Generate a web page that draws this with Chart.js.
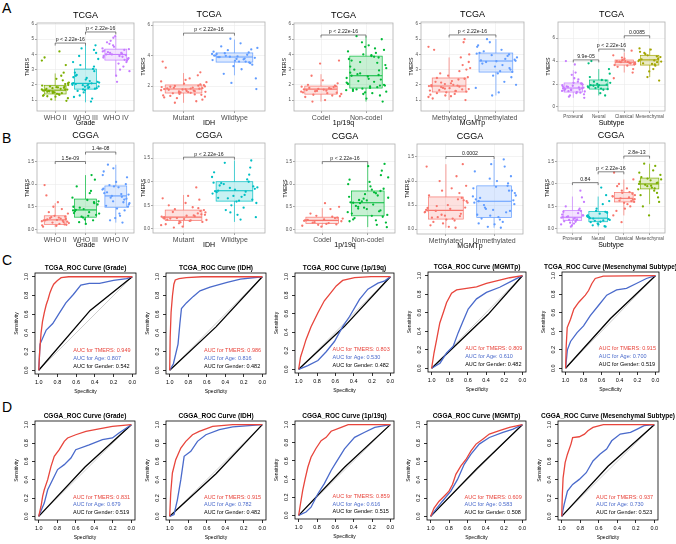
<!DOCTYPE html>
<html lang="en">
<head>
<meta charset="UTF-8">
<title>TMERS boxplots and ROC curves</title>
<script src="https://cdn.jsdelivr.net/npm/chart.js"></script>
<style>
    body {
        margin: 0;
        background: #fff;
        font-family: "Liberation Sans", Arial, sans-serif;
    }
    #fig {
        position: relative;
        width: 676px;
        height: 544px;
        overflow: hidden;
    }
    #fig canvas {
        position: absolute;
    }
    .tag {
        position: absolute;
        font-size: 14px;
        line-height: 1;
        color: #000;
    }
</style>
</head>
<body>
<div id="fig">
    <div class="tag" style="left:2px;top:1px">A</div>
    <div class="tag" style="left:2px;top:131px">B</div>
    <div class="tag" style="left:2px;top:253px">C</div>
    <div class="tag" style="left:2px;top:400px">D</div>
</div>

<script>
// ---------- boxplot data (TMERS by group) ----------
const tcgaTicks = [1, 2, 3, 4, 5, 6];
const tcgaIdhTicks = [2, 4, 6];
const tcgaSubTicks = [0, 2, 4, 6];
const cggaTicks = [0, 0.5, 1, 1.5];

const tcgaGradeCats = ['WHO II', 'WHO III', 'WHO IV'];
const tcgaGradeBox = [[0.95, 1.4, 1.65, 1.95, 2.75], [0.85, 1.72, 2.1, 3.04, 4.6], [2.6, 3.63, 4.0, 4.35, 5.2]];
const tcgaGradePts = [
    [1.62,1.35,2.05,1.78,1.12,1.55,2.4,1.7,1.45,1.9,0.95,1.66,1.83,2.8,1.5,1.28,1.74,2.15,1.6,1.41,3.8,1.88,1.05,1.69,1.52,2.3,1.95,1.38,1.73,3.3,1.58,1.22,1.99,1.64,2.6,1.47,1.81,1.32,4.2,1.7,1.56,2.1,1.25,1.85,3.6],
    [2.05,1.8,3.2,1.65,2.5,0.9,2.15,3.9,1.95,2.8,1.75,4.4,2.2,1.5,3.05,2.0,1.85,2.65,4.1,1.3,2.35,1.9,3.5,2.1,1.7,2.9,1.2,2.25,4.6,1.98,3.7,1.6,2.45,2.08,1.1,3.3,1.78,2.6,2.02,4.3,1.88,2.12],
    [4.0,3.7,4.5,3.2,4.2,3.9,4.8,3.5,4.1,2.6,4.35,3.8,4.05,5.1,3.65,4.25,3.0,3.95,4.6,3.75,4.15,2.2,4.4,3.85,4.9,3.6,4.0,3.4,4.3,5.2,3.9,4.1,2.9,4.7]
];
const tcgaGradeP = [[1, 2, 4.75, 'p < 2.22e-16'], [2, 3, 5.48, 'p < 2.22e-16']];

const tcgaIdhCats = ['Mutant', 'Wildtype'];
const tcgaIdhBox = [[0.9, 1.54, 1.8, 2.07, 2.85], [2.7, 3.57, 3.9, 4.17, 5.05]];
const tcgaIdhPts = [
    [1.8,1.55,2.1,1.65,1.3,1.95,2.4,1.72,1.45,2.0,1.1,1.85,1.6,2.7,1.77,1.38,1.9,2.25,1.52,1.68,3.2,1.82,1.2,2.05,1.58,1.0,1.93,2.5,1.75,1.42,1.88,2.15,1.62,3.6,1.7,1.48,2.02,1.25,1.83,2.9,1.57,1.97,1.35,1.78,2.3,1.66,0.9,1.86],
    [3.9,3.6,4.2,3.3,4.0,3.75,4.5,2.8,3.95,4.1,3.5,4.35,3.85,2.2,4.05,3.7,4.8,3.9,3.4,4.15,3.65,1.8,4.25,3.8,5.1,3.55,4.0,3.1,4.4,3.92,2.5,4.6,3.78,4.1,3.6,3.98]
];
const tcgaIdhP = [[1, 2, 5.47, 'p < 2.22e-16']];

const tcgaCodelCats = ['Codel', 'Non-codel'];
const tcgaCodelBox = [[0.9, 1.39, 1.72, 1.92, 2.7], [0.9, 1.79, 2.6, 3.89, 5.2]];
const tcgaCodelPts = [
    [1.7,1.45,1.9,1.6,1.25,1.8,2.3,1.55,1.75,1.35,2.1,1.65,1.0,1.85,3.4,1.5,1.78,1.4,2.6,1.68,1.2,1.95,1.58,3.6,1.73,1.3,1.88,1.62,2.0,1.48,0.9],
    [2.6,1.9,3.8,1.5,4.2,2.2,3.1,1.7,4.6,2.8,1.3,3.5,2.0,4.0,1.85,2.45,3.95,1.6,5.0,2.7,1.1,3.3,2.1,4.4,1.75,2.95,3.7,1.45,2.35,4.8,1.95,3.0,2.55,1.65,4.1,2.25,0.9,3.6,1.8,2.65,4.5,2.05,3.85,1.55,5.2,2.4,3.2,1.95,2.75,4.3,1.4,3.45,2.15,3.9,1.7]
];
const tcgaCodelP = [[1, 2, 5.28, 'p < 2.22e-16']];

const tcgaMgmtCats = ['Methylated', 'Unmethylated'];
const tcgaMgmtBox = [[1.0, 1.53, 1.92, 2.45, 3.8], [1.3, 2.84, 3.57, 4.09, 5.0]];
const tcgaMgmtPts = [
    [1.9,1.6,2.4,1.75,3.5,1.45,2.1,1.2,2.9,1.85,1.55,4.3,2.0,1.7,2.6,1.35,1.95,3.1,1.65,2.25,1.1,4.8,1.8,2.5,1.5,3.8,1.92,1.4,2.2,1.0,2.75,1.78,4.0,1.62,2.35,1.3,3.3,1.98,1.58,5.0,2.05,1.72,2.45,1.25,4.5,1.88,2.15,3.0],
    [3.6,2.9,4.0,3.2,4.5,2.2,3.8,3.5,1.5,4.1,3.0,4.8,3.65,2.6,3.9,1.8,4.3,3.4,2.85,5.0,3.55,2.0,4.05,3.7,1.3,3.1,4.6,3.3,2.5,3.95,3.58,4.2,2.75]
];
const tcgaMgmtP = [[1, 2, 5.28, 'p < 2.22e-16']];

const subtypeCats = ['Proneural', 'Neural', 'Classical', 'Mesenchymal'];
const tcgaSubBox = [[0.8, 1.3, 1.65, 2.09, 3.2], [1.0, 1.56, 1.9, 2.35, 3.3], [3.0, 3.65, 3.9, 4.09, 4.75], [2.6, 3.65, 4.1, 4.5, 5.1]];
const tcgaSubPts = [
    [1.65,1.3,2.0,1.5,1.1,1.8,2.5,1.4,1.7,0.9,1.95,1.55,3.0,1.25,1.85,1.6,2.2,1.35,1.75,3.7,1.45,2.05,1.0,1.68,2.8,1.52,1.9,1.2,4.0,1.62,1.38,2.1,0.8,1.78,2.4,1.48],
    [1.9,1.6,2.3,1.75,3.8,1.5,2.1,1.85,1.2,2.6,1.95,1.65,3.3,2.0,1.0,1.8,2.35,4.0,1.55,2.2,1.9,2.9,1.7],
    [3.9,3.7,4.1,3.8,4.5,3.6,4.0,3.3,3.95,4.2,3.75,2.5,3.85,4.05,4.9,3.65,3.92,3.0,4.3,3.88,3.5,4.0],
    [4.1,3.7,4.5,3.9,4.8,3.3,4.2,2.6,4.35,3.8,5.0,4.0,3.6,4.6,2.3,4.15,3.75,4.4,3.1,5.1,4.05,3.95,4.7]
];
const tcgaSubP = [[1, 2, 4.1, '9.9e-05'], [2, 3, 5.04, 'p < 2.22e-16'], [3, 4, 6.2, '0.0085']];

const cggaGradeBox = [[0.05, 0.11, 0.21, 0.30, 0.58], [0.12, 0.27, 0.43, 0.67, 1.2], [0.15, 0.49, 0.74, 0.96, 1.43]];
const cggaGradePts = [
    [0.2,0.12,0.28,0.15,0.35,0.22,0.08,0.18,0.45,0.25,0.1,0.2,0.6,0.16,0.3,0.06,0.24,0.14,0.38,0.21,0.98,0.11,0.27,0.17,0.5,0.19,0.09,0.26,0.75,0.23],
    [0.43,0.3,0.6,0.22,0.5,0.85,0.35,0.16,0.65,0.4,1.1,0.28,0.55,0.45,0.2,0.7,0.38,0.95,0.32,0.48,0.12,0.62,0.42,1.2,0.26,0.58,0.36,0.8],
    [0.74,0.5,0.95,0.6,1.2,0.35,0.82,0.68,0.2,1.05,0.55,0.9,0.72,1.35,0.42,0.8,0.3,1.0,0.62,0.77,1.43,0.46,0.88,0.15,0.7,1.15,0.52,0.93,0.66,0.25,1.28,0.78,0.58,0.98]
];
const cggaGradeP = [[1, 2, 1.5, '1.5e-09'], [2, 3, 1.71, '1.4e-08']];

const cggaIdhBox = [[0.03, 0.18, 0.25, 0.40, 0.72], [0.15, 0.59, 0.81, 1.0, 1.45]];
const cggaIdhPts = [
    [0.25,0.18,0.38,0.12,0.3,0.22,0.55,0.08,0.27,0.42,0.15,0.2,0.7,0.33,0.05,0.24,0.46,0.19,0.36,0.28,0.1,0.62,0.23,0.4,0.14,0.88,0.26,0.17,0.5,0.31,0.03,0.21,0.35,0.65,0.29,0.16,0.44,0.22],
    [0.81,0.6,1.0,0.7,1.2,0.45,0.88,0.95,0.3,0.78,1.3,0.65,0.85,0.5,1.05,0.75,0.2,0.92,0.62,1.4,0.83,0.55,0.98,0.72,0.35,1.15,0.8,0.68,1.45,0.87,0.25,0.97,0.58,1.1,0.79,0.4,0.9,0.66]
];
const cggaIdhP = [[1, 2, 1.52, 'p < 2.22e-16']];

const cggaCodelBox = [[0.05, 0.13, 0.2, 0.27, 0.47], [0.05, 0.3, 0.59, 0.85, 1.45]];
const cggaCodelPts = [
    [0.2,0.14,0.26,0.1,0.18,0.35,0.22,0.08,0.28,0.16,0.5,0.21,0.12,0.25,0.06,0.19,0.45,0.24,0.15,0.58,0.2,0.11,0.3],
    [0.59,0.3,0.85,0.45,1.1,0.2,0.7,0.5,0.95,0.35,1.3,0.62,0.15,0.78,0.4,1.0,0.55,0.25,0.9,0.65,1.4,0.32,0.72,0.1,0.48,1.2,0.6,0.82,0.28,0.68,0.05,0.52,1.05,0.38,0.75,0.58,1.45,0.22,0.88,0.42,0.64,0.18,0.8,1.15,0.46]
];
const cggaCodelP = [[1, 2, 1.5, 'p < 2.22e-16']];

const cggaMgmtBox = [[0.03, 0.21, 0.39, 0.67, 1.35], [0.03, 0.24, 0.58, 0.9, 1.45]];
const cggaMgmtPts = [
    [0.39,0.22,0.65,0.3,0.9,0.15,0.5,0.35,1.1,0.25,0.6,0.08,0.42,0.75,0.28,1.3,0.18,0.55,0.38,0.05,0.7,0.32,1.0,0.45,0.12,0.62,0.36,0.85,0.24,1.35,0.48,0.2,0.58,0.4,0.03,0.8,0.27,0.44],
    [0.58,0.25,0.9,0.4,1.2,0.15,0.7,0.5,1.0,0.3,0.8,0.05,0.6,1.35,0.35,0.85,0.2,0.65,1.1,0.45,0.1,0.75,0.55,1.45,0.28,0.95,0.62,0.03,0.38,1.05,0.52,0.22,0.88,0.68,1.3,0.42,0.8,0.12]
];
const cggaMgmtP = [[1, 2, 1.51, '0.0002']];

const cggaSubBox = [[0.05, 0.19, 0.26, 0.41, 0.72], [0.05, 0.16, 0.24, 0.39, 0.72], [0.3, 0.6, 0.68, 0.81, 1.1], [0.55, 0.89, 1.0, 1.13, 1.45]];
const cggaSubPts = [
    [0.26,0.19,0.4,0.14,0.3,0.5,0.22,0.1,0.35,0.28,0.7,0.17,0.24,0.45,0.08,0.32,0.21,0.6,0.27,0.12,0.38,0.85,0.2,0.3,0.05,0.42,0.25,0.16],
    [0.24,0.16,0.38,0.12,0.3,0.55,0.2,0.08,0.34,0.26,0.75,0.18,0.22,0.45,0.06,0.29,0.92,0.15,0.36,0.23,0.1,0.62,0.27,0.19,0.4,0.05],
    [0.68,0.6,0.8,0.5,0.72,0.9,0.4,0.65,1.0,0.58,0.75,0.3,0.7,0.85,0.62,1.25,0.55,0.78,0.15,0.66,0.95,0.45,0.73,0.82,0.63,1.1],
    [1.0,0.9,1.12,0.8,1.05,1.3,0.7,0.95,1.2,0.5,1.08,0.88,1.4,0.98,0.6,1.15,0.92,1.02,0.3,1.25,0.85,1.1,1.45,0.96,0.75,1.03]
];
const cggaSubP = [[1, 2, 1.03, '0.84'], [2, 3, 1.27, 'p < 2.22e-16'], [3, 4, 1.62, '2.8e-13']];

// ---------- ROC data: [specificity, sensitivity] ----------
const rocTicks = [0, 0.2, 0.4, 0.6, 0.8, 1];
const rocDiag = [[1, 0], [0, 1]];

const rocTcgaGradeTmers = [[1,0],[0.99,0.2],[0.975,0.4],[0.96,0.52],[0.94,0.62],[0.92,0.7],[0.9,0.76],[0.88,0.83],[0.86,0.88],[0.84,0.92],[0.8,0.96],[0.76,0.99],[0.68,1],[0,1]];
const rocTcgaGradeAge = [[1,0],[0.986,0.28],[0.92,0.43],[0.85,0.5],[0.78,0.61],[0.71,0.72],[0.63,0.81],[0.55,0.91],[0.46,0.93],[0.35,0.93],[0.2,0.96],[0.06,0.98],[0,1]];
const rocTcgaGradeGender = [[1,0],[0.45,0.64],[0,1]];
const rocTcgaGradeAuc = [0.949, 0.807, 0.542];

const rocTcgaIdhTmers = [[1,0],[0.995,0.35],[0.985,0.62],[0.97,0.8],[0.955,0.92],[0.94,0.965],[0.9,0.98],[0.82,0.99],[0.65,1],[0,1]];
const rocTcgaIdhAge = [[1,0],[0.96,0.07],[0.91,0.28],[0.89,0.5],[0.873,0.66],[0.82,0.72],[0.745,0.79],[0.673,0.85],[0.564,0.89],[0.38,0.94],[0.236,0.975],[0,1]];
const rocTcgaIdhGender = [[1,0],[0.5,0.464],[0,1]];
const rocTcgaIdhAuc = [0.986, 0.816, 0.482];

const rocTcgaCodelTmers = [[1,0],[0.98,0.13],[0.945,0.24],[0.92,0.32],[0.865,0.46],[0.79,0.61],[0.72,0.74],[0.646,0.83],[0.59,0.9],[0.52,0.96],[0.39,0.99],[0.21,1],[0,1]];
const rocTcgaCodelAge = [[1,0],[0.9,0.04],[0.79,0.095],[0.7,0.19],[0.61,0.3],[0.52,0.46],[0.445,0.57],[0.336,0.755],[0.245,0.865],[0.135,0.93],[0.06,0.955],[0,1]];
const rocTcgaCodelGender = [[1,0],[0.5,0.464],[0,1]];
const rocTcgaCodelAuc = [0.803, 0.530, 0.482];

const rocTcgaMgmtTmers = [[1,0],[0.974,0.165],[0.945,0.31],[0.91,0.49],[0.872,0.6],[0.835,0.71],[0.78,0.81],[0.725,0.846],[0.615,0.864],[0.505,0.88],[0.396,0.916],[0.25,0.952],[0.139,0.978],[0,1]];
const rocTcgaMgmtAge = [[1,0],[0.908,0.055],[0.835,0.165],[0.762,0.238],[0.707,0.385],[0.652,0.513],[0.597,0.64],[0.505,0.75],[0.396,0.82],[0.25,0.875],[0.103,0.95],[0,1]];
const rocTcgaMgmtGender = [[1,0],[0.38,0.58],[0,1]];
const rocTcgaMgmtAuc = [0.809, 0.610, 0.482];

const rocTcgaMesTmers = [[1,0],[0.993,0.24],[0.982,0.44],[0.945,0.53],[0.908,0.64],[0.853,0.714],[0.78,0.79],[0.744,0.84],[0.707,0.916],[0.67,0.97],[0.58,0.996],[0,1]];
const rocTcgaMesAge = [[1,0],[0.98,0.2],[0.945,0.29],[0.872,0.385],[0.8,0.458],[0.725,0.568],[0.634,0.678],[0.542,0.79],[0.432,0.846],[0.322,0.864],[0.212,0.916],[0.1,0.97],[0,1]];
const rocTcgaMesGender = [[1,0],[0.5,0.538],[0,1]];
const rocTcgaMesAuc = [0.915, 0.700, 0.519];

const rocCggaGradeTmers = [[1,0],[0.975,0.11],[0.957,0.22],[0.94,0.29],[0.903,0.4],[0.867,0.545],[0.832,0.655],[0.778,0.727],[0.724,0.818],[0.688,0.855],[0.6,0.89],[0.49,0.927],[0.348,0.953],[0.204,0.982],[0,1]];
const rocCggaGradeAge = [[1,0],[0.94,0.145],[0.903,0.29],[0.85,0.4],[0.796,0.51],[0.724,0.564],[0.652,0.636],[0.6,0.727],[0.455,0.78],[0.312,0.836],[0.204,0.855],[0.133,0.91],[0,1]];
const rocCggaGradeGender = [[1,0],[0.5,0.538],[0,1]];
const rocCggaGradeAuc = [0.831, 0.679, 0.519];

const rocCggaIdhTmers = [[1,0],[0.989,0.255],[0.971,0.473],[0.935,0.618],[0.88,0.745],[0.826,0.818],[0.754,0.89],[0.681,0.927],[0.536,0.982],[0.32,1],[0,1]];
const rocCggaIdhAge = [[1,0],[0.953,0.02],[0.917,0.18],[0.88,0.4],[0.844,0.655],[0.772,0.71],[0.7,0.818],[0.609,0.89],[0.464,0.945],[0.319,0.975],[0,1]];
const rocCggaIdhGender = [[1,0],[0.5,0.464],[0,1]];
const rocCggaIdhAuc = [0.915, 0.782, 0.482];

const rocCggaCodelTmers = [[1,0],[0.98,0.128],[0.956,0.275],[0.93,0.4],[0.9,0.53],[0.865,0.64],[0.81,0.74],[0.755,0.824],[0.7,0.86],[0.646,0.927],[0.536,0.97],[0.46,1],[0,1]];
const rocCggaCodelAge = [[1,0],[0.92,0.037],[0.865,0.09],[0.79,0.238],[0.72,0.35],[0.646,0.495],[0.59,0.586],[0.5,0.733],[0.39,0.86],[0.28,0.916],[0.17,0.97],[0,1]];
const rocCggaCodelGender = [[1,0],[0.5,0.53],[0,1]];
const rocCggaCodelAuc = [0.859, 0.616, 0.515];

const rocCggaMgmtTmers = [[1,0],[0.963,0.09],[0.908,0.165],[0.853,0.22],[0.8,0.275],[0.762,0.348],[0.725,0.458],[0.67,0.55],[0.615,0.62],[0.56,0.714],[0.505,0.788],[0.432,0.842],[0.36,0.897],[0.25,0.934],[0.14,0.97],[0,1]];
const rocCggaMgmtAge = [[1,0],[0.945,0.073],[0.872,0.165],[0.78,0.275],[0.707,0.403],[0.634,0.568],[0.56,0.678],[0.47,0.788],[0.36,0.86],[0.212,0.916],[0.1,0.952],[0,1]];
const rocCggaMgmtGender = [[1,0],[0.5,0.516],[0,1]];
const rocCggaMgmtAuc = [0.609, 0.583, 0.508];

const rocCggaMesTmers = [[1,0],[0.993,0.238],[0.985,0.42],[0.963,0.586],[0.938,0.678],[0.9,0.788],[0.882,0.86],[0.81,0.868],[0.754,0.897],[0.717,0.934],[0.662,0.97],[0.55,1],[0,1]];
const rocCggaMesAge = [[1,0],[0.974,0.128],[0.938,0.275],[0.882,0.348],[0.81,0.403],[0.735,0.476],[0.662,0.604],[0.588,0.678],[0.515,0.733],[0.46,0.824],[0.368,0.897],[0.257,0.916],[0.184,0.952],[0.11,0.99],[0,1]];
const rocCggaMesGender = [[1,0],[0.5,0.546],[0,1]];
const rocCggaMesAuc = [0.937, 0.730, 0.523];

// ---------- styling ----------
const FONT = '"Liberation Sans", Arial, sans-serif';
const RED = '#E8453C', BLUE = '#4A6ACB';
const AUC_NAMES = ['TMERS', 'Age', 'Gender'];
const AUC_COLORS = [RED, BLUE, '#000'];
const AUC_Y = [0.21, 0.125, 0.04];
// fixed jitter pattern for the dot clouds (category units)
const JITTER = [-0.38,0.14,0.33,-0.09,0.42,-0.26,0.04,-0.44,0.22,-0.17,0.37,-0.32,0.09,0.28,-0.02,-0.4,0.18,0.45,-0.21,0.06,-0.35,0.31,-0.13,0.4,-0.06,0.25,-0.43,0.12,-0.29,0.35,-0.19,0.01,0.43,-0.41,0.2,-0.08,0.29];

Chart.defaults.font.family = FONT;

function rgba(hex, a) {
    const n = parseInt(hex.slice(1), 16);
    return `rgba(${n >> 16},${(n >> 8) & 255},${n & 255},${a})`;
}

// make a canvas so that the plot area lands on rect = [x0, y0, x1, y1]
function place(rect, m) {
    const [x0, y0, x1, y1] = rect;
    const c = document.createElement('canvas');
    const w = x1 - x0 + m.l + m.r, h = y1 - y0 + m.t + m.b;
    c.width = w;
    c.height = h;
    c.style.left = (x0 - m.l) + 'px';
    c.style.top = (y0 - m.t) + 'px';
    c.style.width = w + 'px';
    c.style.height = h + 'px';
    document.getElementById('fig').appendChild(c);
    return c;
}

function text(ctx, s, x, y, size, opts = {}) {
    ctx.save();
    ctx.font = `${opts.bold ? 'bold ' : ''}${size}px ${FONT}`;
    ctx.fillStyle = opts.color || '#000';
    ctx.textAlign = opts.align || 'center';
    ctx.textBaseline = opts.base || 'middle';
    ctx.translate(x, y);
    if (opts.rot) ctx.rotate(-Math.PI / 2);
    ctx.fillText(s, 0, 0);
    ctx.restore();
}

// ---------- jitter + boxplot panels ----------
function boxChart(p) {
    const m = {l: 40, r: 14, t: 18, b: 22};
    const cv = place(p.rect, m);
    const n = p.cats.length;

    const datasets = p.pts.map((vals, i) => ({
        data: vals.map((v, k) => ({x: i + 1 + JITTER[(k + i * 11) % JITTER.length], y: v})),
        backgroundColor: p.colors[i],
        pointRadius: 1.15,
        pointBorderWidth: 0
    }));

    const drawBoxes = {
        id: 'boxes',
        beforeDatasetsDraw(chart) {
            const {ctx, scales: {x, y}} = chart;
            ctx.save();
            p.box.forEach((b, i) => {
                const c = p.colors[i];
                const l = x.getPixelForValue(i + 1 - 0.36), r = x.getPixelForValue(i + 1 + 0.36);
                const mid = x.getPixelForValue(i + 1);
                const [lo, q1, md, q3, hi] = b.map(v => y.getPixelForValue(v));
                ctx.strokeStyle = c;
                ctx.lineWidth = 0.7;
                ctx.beginPath();
                ctx.moveTo(mid, lo); ctx.lineTo(mid, q1);
                ctx.moveTo(mid, q3); ctx.lineTo(mid, hi);
                ctx.stroke();
                ctx.fillStyle = rgba(c, 0.22);
                ctx.fillRect(l, q3, r - l, q1 - q3);
                ctx.strokeRect(l, q3, r - l, q1 - q3);
                ctx.lineWidth = 1.1;
                ctx.beginPath();
                ctx.moveTo(l, md); ctx.lineTo(r, md);
                ctx.stroke();
            });
            ctx.restore();
        },
        afterDraw(chart) {
            const {ctx, chartArea: a, scales: {x, y}} = chart;
            ctx.save();
            ctx.strokeStyle = '#b0b0b0';
            ctx.lineWidth = 0.8;
            ctx.strokeRect(a.left, a.top, a.width, a.height);
            // comparison brackets
            ctx.strokeStyle = '#333';
            ctx.lineWidth = 0.6;
            p.comps.forEach(([i, j, v, lab]) => {
                const py = y.getPixelForValue(v);
                const x1 = x.getPixelForValue(i), x2 = x.getPixelForValue(j);
                ctx.beginPath();
                ctx.moveTo(x1, py + 2.5); ctx.lineTo(x1, py); ctx.lineTo(x2, py); ctx.lineTo(x2, py + 2.5);
                ctx.stroke();
                text(ctx, lab, (x1 + x2) / 2, py - 0.5, 5.2, {base: 'bottom', color: '#222'});
            });
            ctx.restore();
            text(ctx, p.title, (a.left + a.right) / 2, a.top - 7, 9);
            text(ctx, p.xTitle, (a.left + a.right) / 2, a.bottom + 12, 7);
            text(ctx, 'TMERS', a.left - 9, (a.top + a.bottom) / 2, 5.2, {rot: true});
        }
    };

    new Chart(cv, {
        type: 'scatter',
        data: {datasets},
        options: {
            responsive: false,
            animation: false,
            devicePixelRatio: 1,
            layout: {padding: {left: 0, right: m.r, top: m.t, bottom: 0}},
            plugins: {legend: {display: false}, tooltip: {enabled: false}},
            scales: {
                x: {
                    min: 0.4, max: n + 0.6,
                    afterBuildTicks: s => { s.ticks = p.cats.map((c, i) => ({value: i + 1})); },
                    afterFit: s => { s.height = m.b; s.paddingLeft = 0; s.paddingRight = 0; },
                    grid: {color: '#ebebeb', lineWidth: 0.6, tickColor: '#666', tickLength: 2},
                    border: {display: false},
                    ticks: {
                        callback: (v, idx) => p.cats[idx],
                        autoSkip: false, maxRotation: 0, padding: 1,
                        font: {size: p.catSize}, color: '#4d4d4d'
                    }
                },
                y: {
                    min: p.yMin, max: p.yMax,
                    afterBuildTicks: s => { s.ticks = p.yTicks.map(v => ({value: v})); },
                    afterFit: s => { s.width = m.l; s.paddingTop = 0; s.paddingBottom = 0; },
                    grid: {color: '#ebebeb', lineWidth: 0.6, tickColor: '#666', tickLength: 2},
                    border: {display: false},
                    ticks: {
                        callback: v => p.dec ? v.toFixed(1) : String(v),
                        padding: 1, font: {size: 4.5}, color: '#4d4d4d'
                    }
                }
            }
        },
        plugins: [drawBoxes]
    });
}

// ---------- ROC panels ----------
function rocChart(p) {
    const m = {l: 40, r: 24, t: 14, b: 26};
    const cv = place(p.rect, m);
    const line = (pts, color, w) => ({
        data: pts.map(([x, y]) => ({x, y})),
        borderColor: color,
        borderWidth: w,
        showLine: true,
        pointRadius: 0,
        fill: false
    });

    const decor = {
        id: 'rocDecor',
        afterDraw(chart) {
            const {ctx, chartArea: a, scales: {x, y}} = chart;
            ctx.save();
            ctx.strokeStyle = '#000';
            ctx.lineWidth = 0.8;
            ctx.strokeRect(a.left, a.top, a.width, a.height);
            ctx.restore();
            rocTicks.forEach(v => text(ctx, v.toFixed(1), a.left - 9, y.getPixelForValue(v), 5.5, {rot: true}));
            text(ctx, 'Sensitivity', a.left - 18, (a.top + a.bottom) / 2, 5, {rot: true});
            text(ctx, 'Specificity', (a.left + a.right) / 2, a.bottom + 18, 5);
            text(ctx, p.title, (a.left + a.right) / 2, a.top - 1.5, 6.5, {bold: true, base: 'bottom'});
            p.auc.forEach((v, k) => {
                text(ctx, `AUC for ${AUC_NAMES[k]}: ${v.toFixed(3)}`, x.getPixelForValue(0.63), y.getPixelForValue(AUC_Y[k]),
                    5.5, {align: 'left', color: AUC_COLORS[k]});
            });
        }
    };

    const axis = {
        min: -0.04, max: 1.04,
        grid: {drawOnChartArea: false, tickLength: 3, tickColor: '#000', lineWidth: 0.8},
        border: {display: false},
        afterBuildTicks: s => { s.ticks = rocTicks.map(v => ({value: v})); }
    };

    new Chart(cv, {
        type: 'scatter',
        data: {
            datasets: [
                line(p.tmers, RED, 1.3),
                line(p.age, BLUE, 1.3),
                line(p.gender, '#000', 1.3),
                line(rocDiag, '#cfcfcf', 1)
            ]
        },
        options: {
            responsive: false,
            animation: false,
            devicePixelRatio: 1,
            layout: {padding: {left: 0, right: m.r, top: m.t, bottom: 0}},
            plugins: {legend: {display: false}, tooltip: {enabled: false}},
            scales: {
                x: Object.assign({}, axis, {
                    reverse: true,
                    afterFit: s => { s.height = m.b; s.paddingLeft = 0; s.paddingRight = 0; },
                    ticks: {callback: v => v.toFixed(1), autoSkip: false, maxRotation: 0, padding: 2, font: {size: 5.5}, color: '#000'}
                }),
                y: Object.assign({}, axis, {
                    afterFit: s => { s.width = m.l; s.paddingTop = 0; s.paddingBottom = 0; },
                    ticks: {display: false}
                })
            }
        },
        plugins: [decor]
    });
}

// ---------- layout ----------
const hue3 = ['#7CAE00', '#00BFC4', '#C77CFF'];
const redBlue = ['#F8766D', '#619CFF'];
const redGreen = ['#F8766D', '#00BA38'];

boxChart({title: 'TCGA', xTitle: 'Grade', cats: tcgaGradeCats, box: tcgaGradeBox, pts: tcgaGradePts, comps: tcgaGradeP,
    colors: hue3, yMin: 0.28, yMax: 6.07, yTicks: tcgaTicks, catSize: 7, rect: [37, 23, 134, 111]});
boxChart({title: 'TCGA', xTitle: 'IDH', cats: tcgaIdhCats, box: tcgaIdhBox, pts: tcgaIdhPts, comps: tcgaIdhP,
    colors: redBlue, yMin: 0.36, yMax: 6.2, yTicks: tcgaIdhTicks, catSize: 7, rect: [153, 22, 265, 111]});
boxChart({title: 'TCGA', xTitle: '1p/19q', cats: tcgaCodelCats, box: tcgaCodelBox, pts: tcgaCodelPts, comps: tcgaCodelP,
    colors: redGreen, yMin: 0.28, yMax: 6.07, yTicks: tcgaTicks, catSize: 7, rect: [294, 23, 393, 111]});
boxChart({title: 'TCGA', xTitle: 'MGMTp', cats: tcgaMgmtCats, box: tcgaMgmtBox, pts: tcgaMgmtPts, comps: tcgaMgmtP,
    colors: redBlue, yMin: 0.28, yMax: 6.13, yTicks: tcgaTicks, catSize: 7, rect: [421, 22, 524, 111]});
boxChart({title: 'TCGA', xTitle: 'Subtype', cats: subtypeCats, box: tcgaSubBox, pts: tcgaSubPts, comps: tcgaSubP,
    colors: ['#C77CFF', '#00BF7D', '#F8766D', '#A3A500'], yMin: -0.35, yMax: 7.4, yTicks: tcgaSubTicks, catSize: 4.6, rect: [558, 22, 665, 111]});

boxChart({title: 'CGGA', xTitle: 'Grade', cats: tcgaGradeCats, box: cggaGradeBox, pts: cggaGradePts, comps: cggaGradeP,
    colors: ['#F8766D', '#00BA38', '#619CFF'], yMin: -0.08, yMax: 1.91, yTicks: cggaTicks, dec: true, catSize: 7, rect: [37, 143, 134, 233]});
boxChart({title: 'CGGA', xTitle: 'IDH', cats: tcgaIdhCats, box: cggaIdhBox, pts: cggaIdhPts, comps: cggaIdhP,
    colors: ['#F8766D', '#00BFC4'], yMin: -0.085, yMax: 1.82, yTicks: cggaTicks, dec: true, catSize: 7, rect: [153, 143, 265, 233]});
boxChart({title: 'CGGA', xTitle: '1p/19q', cats: tcgaCodelCats, box: cggaCodelBox, pts: cggaCodelPts, comps: cggaCodelP,
    colors: redGreen, yMin: -0.08, yMax: 1.89, yTicks: cggaTicks, dec: true, catSize: 7, rect: [295, 144, 395, 233]});
boxChart({title: 'CGGA', xTitle: 'MGMTp', cats: tcgaMgmtCats, box: cggaMgmtBox, pts: cggaMgmtPts, comps: cggaMgmtP,
    colors: redBlue, yMin: -0.1, yMax: 1.77, yTicks: cggaTicks, dec: true, catSize: 7, rect: [417, 144, 523, 234]});
boxChart({title: 'CGGA', xTitle: 'Subtype', cats: subtypeCats, box: cggaSubBox, pts: cggaSubPts, comps: cggaSubP,
    colors: ['#C77CFF', '#00BFC4', '#F8766D', '#7CAE00'], yMin: -0.09, yMax: 1.91, yTicks: cggaTicks, dec: true, catSize: 4.6, rect: [557, 143, 665, 233]});

rocChart({title: 'TCGA_ROC Curve (Grade)', tmers: rocTcgaGradeTmers, age: rocTcgaGradeAge, gender: rocTcgaGradeGender, auc: rocTcgaGradeAuc, rect: [35, 273, 136, 374]});
rocChart({title: 'TCGA_ROC Curve (IDH)', tmers: rocTcgaIdhTmers, age: rocTcgaIdhAge, gender: rocTcgaIdhGender, auc: rocTcgaIdhAuc, rect: [166, 273, 266, 374]});
rocChart({title: 'TCGA_ROC Curve (1p/19q)', tmers: rocTcgaCodelTmers, age: rocTcgaCodelAge, gender: rocTcgaCodelGender, auc: rocTcgaCodelAuc, rect: [295, 273, 394, 373]});
rocChart({title: 'TCGA_ROC Curve (MGMTp)', tmers: rocTcgaMgmtTmers, age: rocTcgaMgmtAge, gender: rocTcgaMgmtGender, auc: rocTcgaMgmtAuc, rect: [428, 272, 526, 372]});
rocChart({title: 'TCGA_ROC Curve (Mesenchymal Subtype)', tmers: rocTcgaMesTmers, age: rocTcgaMesAge, gender: rocTcgaMesGender, auc: rocTcgaMesAuc, rect: [562, 272, 659, 372]});

rocChart({title: 'CGGA_ROC Curve (Grade)', tmers: rocCggaGradeTmers, age: rocCggaGradeAge, gender: rocCggaGradeGender, auc: rocCggaGradeAuc, rect: [35, 421, 135, 520]});
rocChart({title: 'CGGA_ROC Curve (IDH)', tmers: rocCggaIdhTmers, age: rocCggaIdhAge, gender: rocCggaIdhGender, auc: rocCggaIdhAuc, rect: [166, 421, 266, 520]});
rocChart({title: 'CGGA_ROC Curve (1p/19q)', tmers: rocCggaCodelTmers, age: rocCggaCodelAge, gender: rocCggaCodelGender, auc: rocCggaCodelAuc, rect: [295, 421, 394, 519]});
rocChart({title: 'CGGA_ROC Curve (MGMTp)', tmers: rocCggaMgmtTmers, age: rocCggaMgmtAge, gender: rocCggaMgmtGender, auc: rocCggaMgmtAuc, rect: [427, 421, 526, 520]});
rocChart({title: 'CGGA_ROC Curve (Mesenchymal Subtype)', tmers: rocCggaMesTmers, age: rocCggaMesAge, gender: rocCggaMesGender, auc: rocCggaMesAuc, rect: [558, 421, 658, 520]});
</script>
</body>
</html>
